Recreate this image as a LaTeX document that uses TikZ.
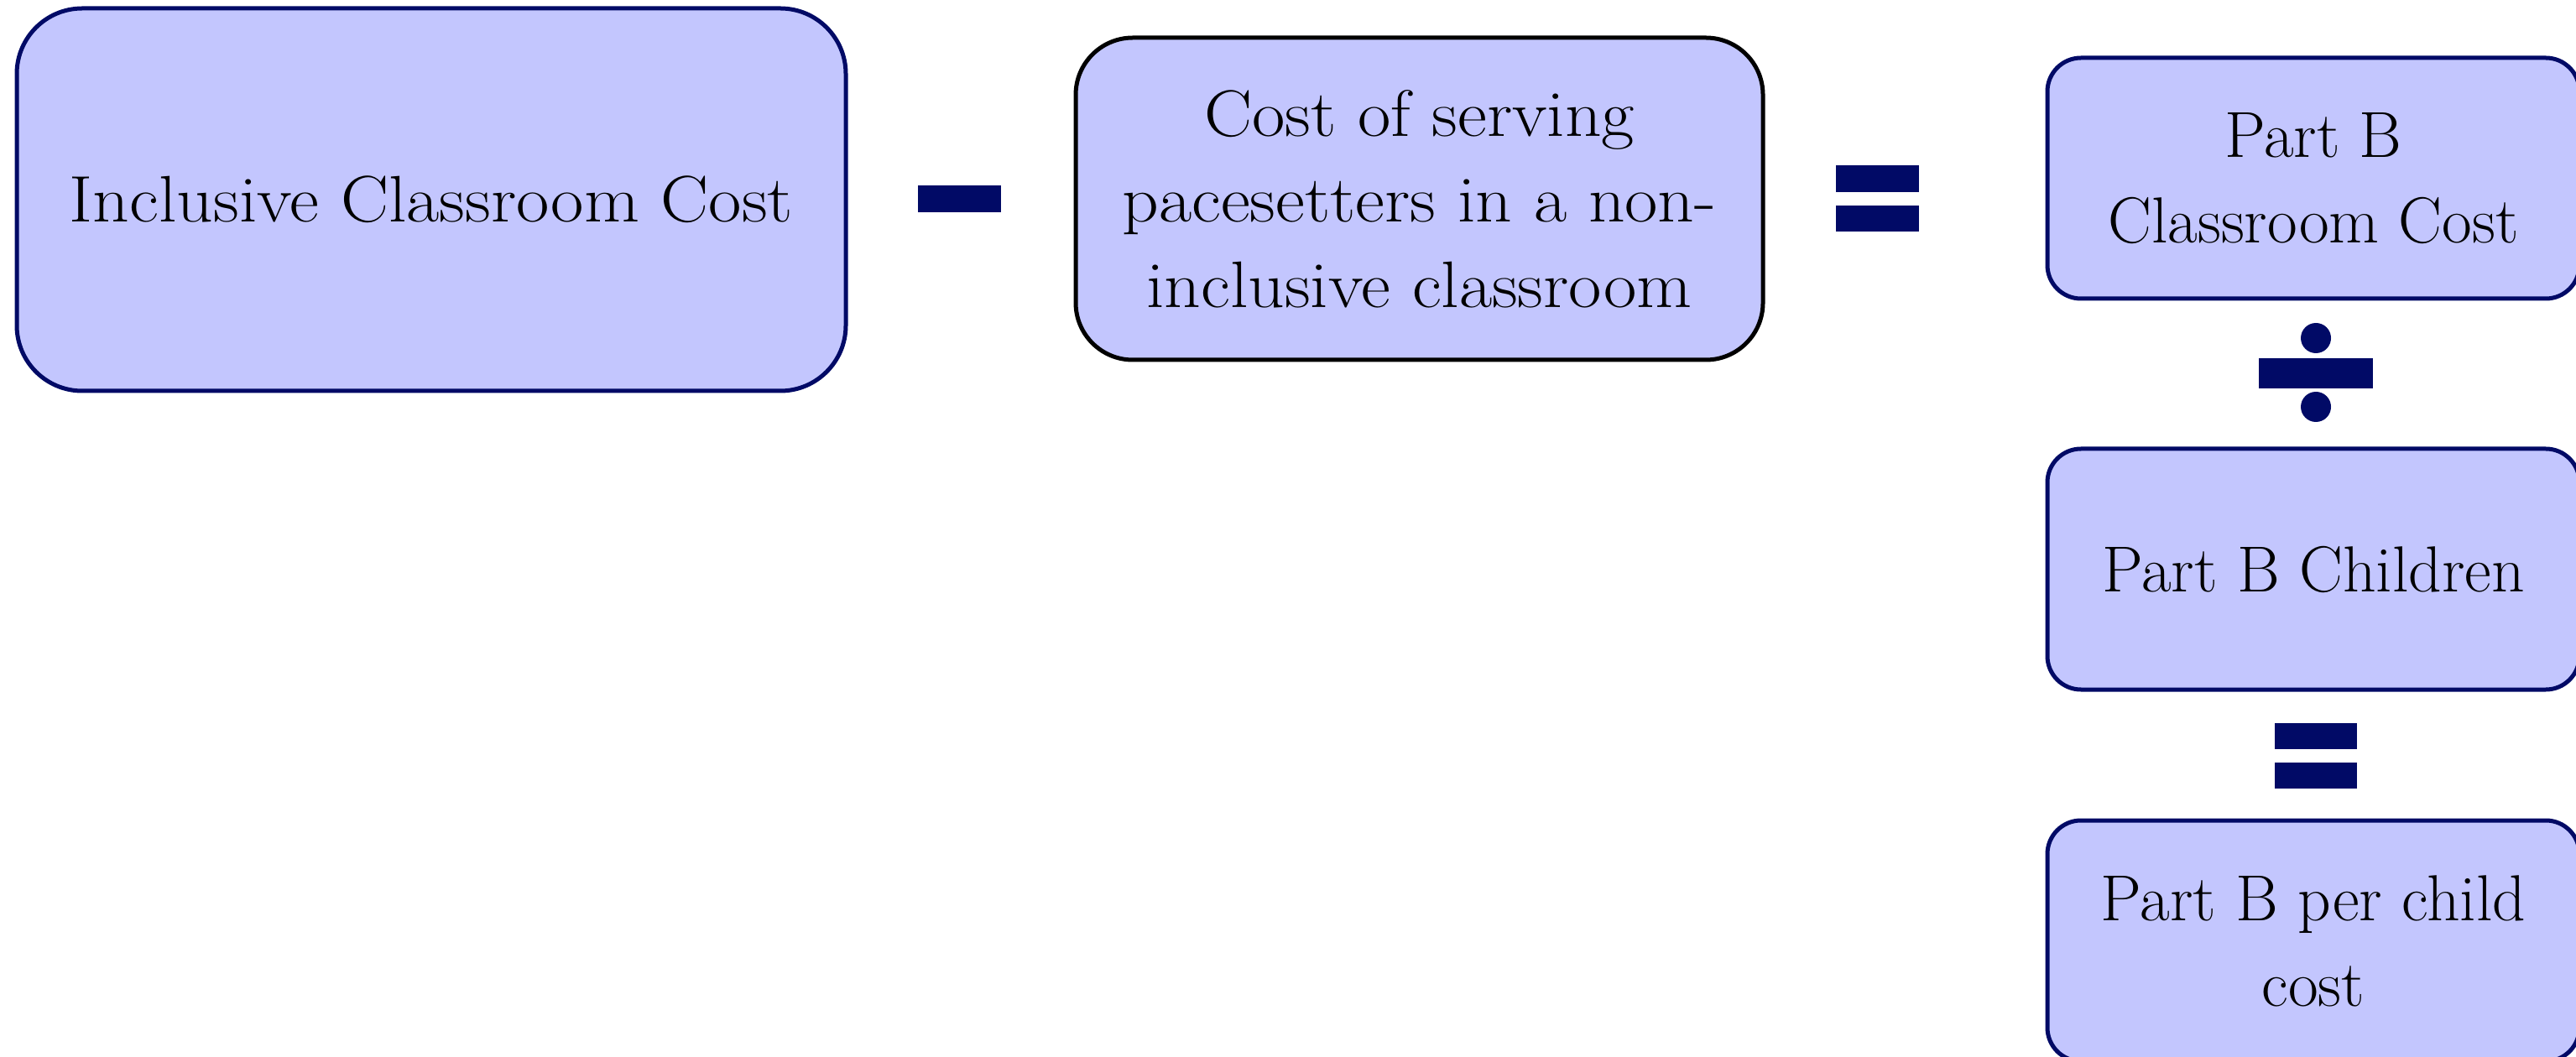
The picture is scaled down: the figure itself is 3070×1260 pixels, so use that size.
\documentclass[tikz,border=0pt]{standalone}
\usepackage{fontspec}
\usepackage{tikz}

\newfontfamily\widerm[FakeStretch=1.09]{Latin Modern Roman}
\definecolor{boxfill}{RGB}{195,198,254}
\definecolor{opnavy}{RGB}{1,10,102}

\begin{document}
\begin{tikzpicture}[x=0.25pt,y=0.25pt,yscale=-1,xscale=1,
  costbox/.style={draw=opnavy,fill=boxfill,line width=1.25pt,align=center,inner sep=0pt,
    font=\fontsize{19.4}{25.5}\selectfont},
  widebox/.style={costbox,font=\widerm\fontsize{19.6}{25.5}\selectfont},
  opbar/.style={fill=opnavy}]
%set diagram to 3070 x 1260
\useasboundingbox (0,0) rectangle (3070,1260);

%Rounded Rect [id:inclusive]
\node[widebox,rounded corners=19.5pt,minimum width=247pt,minimum height=114pt] (inclusive) at (514,238) {Inclusive Classroom Cost};
%Rounded Rect [id:serving]
\node[widebox,draw=black,rounded corners=17pt,minimum width=204.75pt,minimum height=96pt] (serving) at (1691.5,237) {Cost of serving\\pacesetters in a non-\\inclusive classroom};
%Rounded Rect [id:pbcost]
\node[costbox,rounded corners=10pt,minimum width=158.5pt,minimum height=71.75pt] (pbcost) at (2757,212.5) {Part B\\Classroom Cost};
%Rounded Rect [id:pbchildren]
\node[costbox,rounded corners=10pt,minimum width=158.5pt,minimum height=71.75pt] (pbchildren) at (2757,678.5) {Part B Children};
%Rounded Rect [id:pbperchild]
\node[costbox,rounded corners=10pt,minimum width=158.5pt,minimum height=71.75pt] (pbperchild) at (2757,1121.5) {Part B per child\\cost};

%Minus
\fill[opbar] (1094,221) rectangle (1193,253);
%Equals
\fill[opbar] (2188,197) rectangle (2287,229);
\fill[opbar] (2188,245) rectangle (2287,276);
%Divide
\fill[opbar] (2692,427) rectangle (2828,463);
\fill[opbar] (2760,403) circle [radius=18];
\fill[opbar] (2760,485) circle [radius=18];
%Equals
\fill[opbar] (2711,862) rectangle (2809,893);
\fill[opbar] (2711,909) rectangle (2809,940);

\end{tikzpicture}
\end{document}
